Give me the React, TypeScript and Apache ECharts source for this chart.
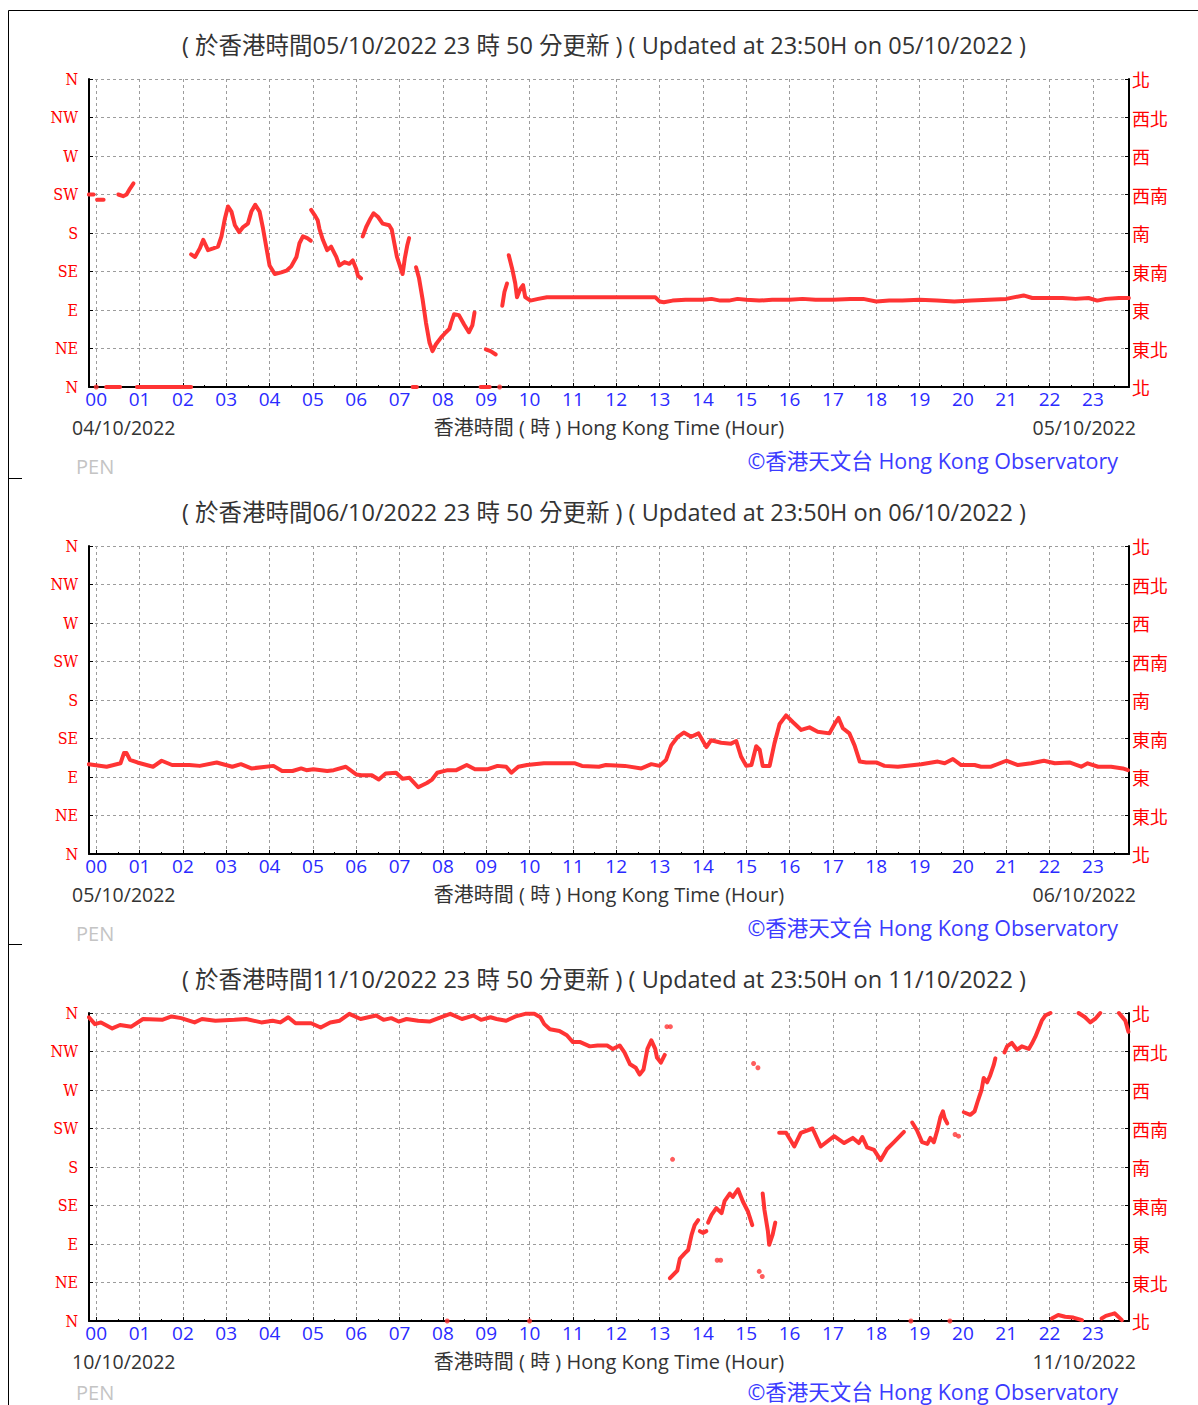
import React, { useEffect, useRef } from 'react';
import * as echarts from 'echarts';

// ---------- tick labels ----------
const HOUR_LABELS = ['00','01','02','03','04','05','06','07','08','09','10','11','12','13','14','15','16','17','18','19','20','21','22','23'];
const HOUR_TICKS = [0,1,2,3,4,5,6,7,8,9,10,11,12,13,14,15,16,17,18,19,20,21,22,23];
const HALF_TICKS = [0.5,1.5,2.5,3.5,4.5,5.5,6.5,7.5,8.5,9.5,10.5,11.5,12.5,13.5,14.5,15.5,16.5,17.5,18.5,19.5,20.5,21.5,22.5,23.5];
const DIR_EN = ['N','NE','E','SE','S','SW','W','NW','N'];
const DIR_ZH = ['北','東北','東','東南','南','西南','西','西北','北'];
const X_MIN = -1 / 6; // 23:50 of previous day
const X_MAX = 23 + 5 / 6; // 23:50

// ---------- panel texts ----------
const TITLES = [
  '( 於香港時間05/10/2022 23 時 50 分更新 ) ( Updated at 23:50H on 05/10/2022 )',
  '( 於香港時間06/10/2022 23 時 50 分更新 ) ( Updated at 23:50H on 06/10/2022 )',
  '( 於香港時間11/10/2022 23 時 50 分更新 ) ( Updated at 23:50H on 11/10/2022 )',
];
const START_DATES = ['04/10/2022', '05/10/2022', '10/10/2022'];
const END_DATES = ['05/10/2022', '06/10/2022', '11/10/2022'];

// ---------- wind direction data [hour, degrees] ----------
const windDir0510: number[][][] = [
  [[-0.17, 225], [-0.06, 225]],
  [[0.02, 219], [0.17, 219]],
  [[0.51, 225], [0.62, 223], [0.7, 225], [0.78, 232], [0.86, 238]],
  [[0.23, 0], [0.55, 0]],
  [[0.94, 0], [2.19, 0]],
  [[7.3, 0], [7.4, 0]],
  [[8.87, 0], [9.08, 0]],
  [[2.19, 155], [2.28, 152], [2.39, 162], [2.47, 172], [2.58, 160], [2.7, 162], [2.81, 164], [2.89, 176], [2.97, 197], [3.04, 211], [3.12, 205], [3.2, 189], [3.3, 181], [3.39, 187], [3.5, 191], [3.58, 205], [3.67, 213], [3.77, 205], [3.85, 185], [3.93, 162], [4.0, 142], [4.12, 132], [4.27, 134], [4.39, 136], [4.5, 141], [4.62, 152], [4.69, 168], [4.77, 176], [4.87, 174], [4.95, 171]],
  [[4.96, 207], [5.04, 201], [5.11, 195], [5.15, 185], [5.23, 172], [5.33, 160], [5.42, 164], [5.54, 152], [5.61, 142], [5.73, 146], [5.84, 144], [5.92, 148], [6.0, 138], [6.04, 130], [6.11, 127]],
  [[6.15, 176], [6.23, 187], [6.33, 197], [6.4, 203], [6.5, 199], [6.61, 191], [6.76, 189], [6.82, 184], [6.88, 168], [6.94, 152], [6.98, 146], [7.07, 132], [7.12, 150], [7.18, 166], [7.22, 174]],
  [[7.38, 140], [7.45, 127], [7.53, 103], [7.61, 75], [7.69, 52], [7.76, 42], [7.84, 50], [7.96, 58], [8.07, 64], [8.15, 68], [8.19, 75], [8.26, 85], [8.37, 84], [8.49, 73], [8.6, 64], [8.68, 72], [8.73, 87]],
  [[8.99, 44], [9.1, 42], [9.22, 38]],
  [[9.37, 95], [9.42, 111], [9.48, 121]],
  [[9.52, 154], [9.6, 138], [9.67, 121], [9.71, 105], [9.79, 115], [9.85, 119], [9.9, 105], [10.02, 101], [10.2, 103], [10.4, 105], [10.6, 105], [11.0, 105], [11.5, 105], [12.0, 105], [12.5, 105], [12.9, 105], [13.0, 100], [13.1, 99], [13.3, 101], [13.6, 102], [14.0, 102], [14.2, 103], [14.4, 101], [14.6, 101], [14.8, 103], [15.0, 102], [15.3, 101], [15.6, 102], [16.0, 102], [16.3, 103], [16.6, 102], [17.0, 102], [17.4, 103], [17.7, 103], [18.0, 100], [18.3, 101], [18.6, 101], [19.0, 102], [19.4, 101], [19.8, 100], [20.2, 101], [20.6, 102], [21.0, 103], [21.4, 107], [21.6, 104], [22.0, 104], [22.3, 104], [22.6, 103], [22.9, 104], [23.1, 101], [23.3, 103], [23.6, 104], [23.83, 104]],
];
const windDots0510: number[][] = [[0.0, 0], [9.31, 0]];

const windDir0610: number[][][] = [
  [[-0.17, 105], [0.24, 102], [0.56, 106], [0.64, 118], [0.7, 118], [0.78, 110], [0.95, 107], [1.31, 102], [1.51, 109], [1.75, 104], [2.15, 104], [2.39, 103], [2.78, 107], [3.14, 102], [3.34, 105], [3.58, 100], [4.09, 103], [4.29, 97], [4.53, 97], [4.73, 100], [4.85, 98], [5.01, 99], [5.33, 97], [5.48, 98], [5.76, 102], [6.0, 93], [6.12, 92], [6.36, 92], [6.52, 87], [6.68, 94], [6.92, 95], [7.07, 88], [7.23, 89], [7.43, 78], [7.63, 83], [7.75, 87], [7.87, 95], [8.11, 98], [8.31, 98], [8.55, 104], [8.74, 99], [9.02, 99], [9.26, 103], [9.46, 102], [9.58, 95], [9.74, 102], [9.94, 104], [10.33, 106], [11.05, 106], [11.21, 103], [11.6, 102], [11.76, 104], [12.2, 103], [12.58, 100], [12.81, 105], [13.0, 103], [13.15, 110], [13.27, 127], [13.42, 137], [13.56, 142], [13.73, 137], [13.9, 141], [14.08, 125], [14.19, 133], [14.42, 130], [14.65, 129], [14.77, 132], [14.88, 114], [15.0, 103], [15.12, 104], [15.23, 126], [15.31, 122], [15.38, 103], [15.54, 103], [15.65, 129], [15.77, 152], [15.92, 162], [16.08, 154], [16.27, 145], [16.46, 148], [16.65, 143], [16.92, 141], [17.04, 152], [17.13, 159], [17.23, 147], [17.38, 141], [17.5, 127], [17.62, 108], [17.77, 107], [18.0, 107], [18.19, 103], [18.5, 102], [19.04, 105], [19.42, 108], [19.58, 106], [19.77, 111], [19.96, 104], [20.27, 104], [20.42, 102], [20.65, 102], [21.0, 109], [21.27, 104], [21.58, 106], [21.87, 109], [22.12, 106], [22.46, 107], [22.73, 102], [22.88, 106], [23.12, 102], [23.42, 102], [23.69, 100], [23.81, 98]],
];
const windDots0610: number[][] = [];

const windDir1110: number[][][] = [
  [[-0.17, 355], [-0.03, 347], [0.11, 349], [0.37, 342], [0.55, 346], [0.81, 344], [1.08, 353], [1.52, 352], [1.74, 356], [1.96, 354], [2.27, 349], [2.44, 353], [2.75, 351], [3.19, 352], [3.46, 353], [3.81, 349], [4.07, 351], [4.25, 349], [4.43, 355], [4.6, 348], [4.96, 348], [5.18, 343], [5.4, 349], [5.62, 351], [5.84, 359], [6.1, 353], [6.28, 355], [6.46, 357], [6.63, 352], [6.81, 354], [6.98, 350], [7.16, 353], [7.43, 351], [7.69, 350], [7.95, 355], [8.17, 359], [8.44, 353], [8.7, 357], [8.88, 352], [9.1, 355], [9.24, 353], [9.46, 351], [9.68, 356], [9.9, 359], [10.11, 359], [10.25, 355], [10.34, 347], [10.47, 341], [10.69, 339], [10.86, 334], [11.0, 326], [11.17, 326], [11.39, 321], [11.57, 322], [11.79, 322], [11.92, 318], [12.08, 322], [12.19, 314], [12.32, 300], [12.45, 296], [12.54, 288], [12.63, 294], [12.72, 318], [12.81, 328], [12.9, 318], [12.94, 308], [13.03, 302], [13.12, 311]],
  [[13.24, 50], [13.41, 59], [13.47, 73], [13.58, 79], [13.66, 83], [13.74, 101], [13.81, 112], [13.89, 118]],
  [[13.93, 105], [14.0, 103], [14.08, 105]],
  [[14.12, 115], [14.2, 124], [14.31, 132], [14.43, 126], [14.5, 140], [14.62, 149], [14.69, 145], [14.81, 154], [14.92, 140], [15.04, 128], [15.14, 112]],
  [[15.38, 149], [15.4, 140], [15.42, 130], [15.5, 105], [15.53, 89], [15.61, 101], [15.67, 115]],
  [[15.76, 220], [15.92, 220], [16.11, 204], [16.26, 220], [16.53, 225], [16.72, 204], [17.03, 216], [17.26, 208], [17.46, 214], [17.6, 208], [17.68, 215], [17.79, 203], [17.95, 200], [18.1, 188], [18.25, 201], [18.41, 209], [18.64, 221]],
  [[18.83, 232], [18.94, 223], [19.06, 209], [19.18, 207], [19.25, 214], [19.33, 209], [19.41, 223], [19.48, 238], [19.54, 245], [19.58, 237], [19.64, 231]],
  [[20.02, 244], [20.17, 241], [20.27, 245], [20.35, 258], [20.43, 270], [20.48, 284], [20.56, 279], [20.63, 287], [20.71, 299], [20.75, 307]],
  [[20.96, 314], [21.02, 321], [21.13, 325], [21.25, 317], [21.36, 321], [21.52, 318], [21.59, 324], [21.67, 332], [21.75, 342], [21.82, 351], [21.9, 357], [22.02, 360]],
  [[22.05, 3], [22.2, 7], [22.36, 5], [22.55, 4], [22.75, 1]],
  [[22.67, 360], [22.82, 355], [22.94, 349], [23.05, 353], [23.17, 360]],
  [[23.2, 3], [23.3, 6], [23.44, 8], [23.5, 9], [23.67, 1]],
  [[23.6, 360], [23.75, 351], [23.82, 338]],
];
const windDots1110: number[][] = [[13.17, 344], [13.25, 344], [13.3, 189], [14.33, 71], [14.41, 71], [15.3, 58], [15.37, 52], [15.17, 301], [15.27, 296], [19.82, 218], [19.9, 216], [8.1, 0], [10.0, 0], [18.8, 0], [19.7, 0]];

const PANEL_SEGMENTS = [windDir0510, windDir0610, windDir1110];
const PANEL_DOTS = [windDots0510, windDots0610, windDots1110];

// ---------- layout / style ----------
const PANEL_STEP = 467;
const GRID_LEFT = 89;
const GRID_TOP = 79;
const GRID_WIDTH = 1040;
const GRID_HEIGHT = 308;
const RED = '#ff3434';
const FONT = '"Open Sans", "Noto Sans CJK TC", sans-serif';
const CJK_FONT = '"Noto Sans CJK TC", sans-serif';
const SERIF = '"DejaVu Serif Condensed", "Liberation Serif", serif';
const GRID_LINE = { color: '#9c9c9c', type: [3, 3] as number[], width: 1 };

function buildOption() {
  const grid: any[] = [];
  const xAxis: any[] = [];
  const yAxis: any[] = [];
  const series: any[] = [];
  const graphic: any[] = [];

  graphic.push(
    { type: 'line', shape: { x1: 8.5, y1: 10.5, x2: 1198, y2: 10.5 }, style: { stroke: '#000', lineWidth: 1 } },
    { type: 'line', shape: { x1: 8.5, y1: 10.5, x2: 8.5, y2: 1405 }, style: { stroke: '#000', lineWidth: 1 } },
    { type: 'line', shape: { x1: 8, y1: 478.5, x2: 22, y2: 478.5 }, style: { stroke: '#000', lineWidth: 1 } },
    { type: 'line', shape: { x1: 8, y1: 944.5, x2: 22, y2: 944.5 }, style: { stroke: '#000', lineWidth: 1 } },
  );

  for (let i = 0; i < 3; i++) {
    const off = i * PANEL_STEP;
    const top = GRID_TOP + off;
    grid.push({ left: GRID_LEFT, top, width: GRID_WIDTH, height: GRID_HEIGHT, show: false });

    xAxis.push({
      type: 'value', gridIndex: i, min: X_MIN, max: X_MAX, position: 'bottom',
      axisLine: { show: true, onZero: false, lineStyle: { color: '#000', width: 2 } },
      axisTick: { show: true, inside: true, length: 4, customValues: HOUR_TICKS, lineStyle: { color: '#000', width: 1 } },
      axisLabel: {
        show: true, customValues: HOUR_TICKS, formatter: (v: number) => HOUR_LABELS[Math.round(v)],
        color: '#2a2aff', fontSize: 19, fontFamily: FONT, margin: 2,
      },
      splitLine: { show: true, lineStyle: GRID_LINE },
      name: '香港時間 ( 時 ) Hong Kong Time (Hour)', nameLocation: 'middle', nameGap: 30,
      nameTextStyle: { color: '#333', fontSize: 20, fontFamily: FONT },
    });
    xAxis.push({
      type: 'value', gridIndex: i, min: X_MIN, max: X_MAX, position: 'bottom',
      axisLine: { show: false, onZero: false },
      axisTick: { show: true, inside: true, length: 2, customValues: HALF_TICKS, lineStyle: { color: '#000', width: 1 } },
      axisLabel: { show: false },
      splitLine: { show: false },
    });

    yAxis.push({
      type: 'value', gridIndex: i, min: 0, max: 360, interval: 45, position: 'left',
      axisLine: { show: true, onZero: false, lineStyle: { color: '#000', width: 2 } },
      axisTick: { show: true, inside: true, length: 4, lineStyle: { color: '#000' } },
      axisLabel: { formatter: (v: number) => DIR_EN[Math.round(v / 45)], color: '#ff0000', fontSize: 16, fontFamily: SERIF, margin: 11 },
      splitLine: { show: true, lineStyle: GRID_LINE },
    });
    yAxis.push({
      type: 'value', gridIndex: i, min: 0, max: 360, interval: 45, position: 'right',
      axisLine: { show: true, onZero: false, lineStyle: { color: '#000', width: 2 } },
      axisTick: { show: true, inside: true, length: 4, lineStyle: { color: '#000' } },
      axisLabel: { formatter: (v: number) => DIR_ZH[Math.round(v / 45)], color: '#ff0000', fontSize: 18, fontFamily: CJK_FONT, margin: 3 },
      splitLine: { show: false },
    });

    PANEL_SEGMENTS[i].forEach((seg) => {
      series.push({
        type: 'line', xAxisIndex: i * 2, yAxisIndex: i * 2, data: seg, showSymbol: false,
        clip: false, silent: true, z: 5,
        lineStyle: { color: RED, width: 4, cap: 'round', join: 'round' },
      });
    });
    if (PANEL_DOTS[i].length) {
      series.push({
        type: 'scatter', xAxisIndex: i * 2, yAxisIndex: i * 2, data: PANEL_DOTS[i],
        symbol: 'circle', symbolSize: 5, clip: false, silent: true, z: 5,
        itemStyle: { color: RED },
      });
    }

    const lastPanel = i === 2;
    graphic.push(
      { type: 'text', x: 604, y: 45 + off, style: { text: TITLES[i], fill: '#333', fontSize: 23.5, fontFamily: FONT, align: 'center', verticalAlign: 'middle' } },
      { type: 'text', x: 72, y: 427 + off, style: { text: START_DATES[i], fill: '#333', fontSize: 19.5, fontFamily: FONT, align: 'left', verticalAlign: 'middle' } },
      { type: 'text', x: 1136, y: 427 + off, style: { text: END_DATES[i], fill: '#333', fontSize: 19.5, fontFamily: FONT, align: 'right', verticalAlign: 'middle' } },
      { type: 'text', x: 76, y: (lastPanel ? 458 : 466) + off, style: { text: 'PEN', fill: '#c4c4c4', fontSize: 20, fontFamily: FONT, align: 'left', verticalAlign: 'middle' } },
      { type: 'text', x: 1118, y: (lastPanel ? 457 : 460) + off, style: { text: '©香港天文台 Hong Kong Observatory', fill: '#3b3bff', fontSize: 21.5, fontFamily: FONT, align: 'right', verticalAlign: 'middle' } },
    );
  }

  return { animation: false, backgroundColor: '#fff', grid, xAxis, yAxis, series, graphic };
}

export default function App() {
  const ref = useRef<HTMLDivElement>(null);
  useEffect(() => {
    if (!ref.current) return;
    const chart = echarts.init(ref.current, undefined, { renderer: 'svg' });
    chart.setOption(buildOption() as any);
    return () => chart.dispose();
  }, []);
  return <div ref={ref} style={{ position: 'absolute', left: 0, top: 0, width: 1198, height: 1405 }} />;
}
